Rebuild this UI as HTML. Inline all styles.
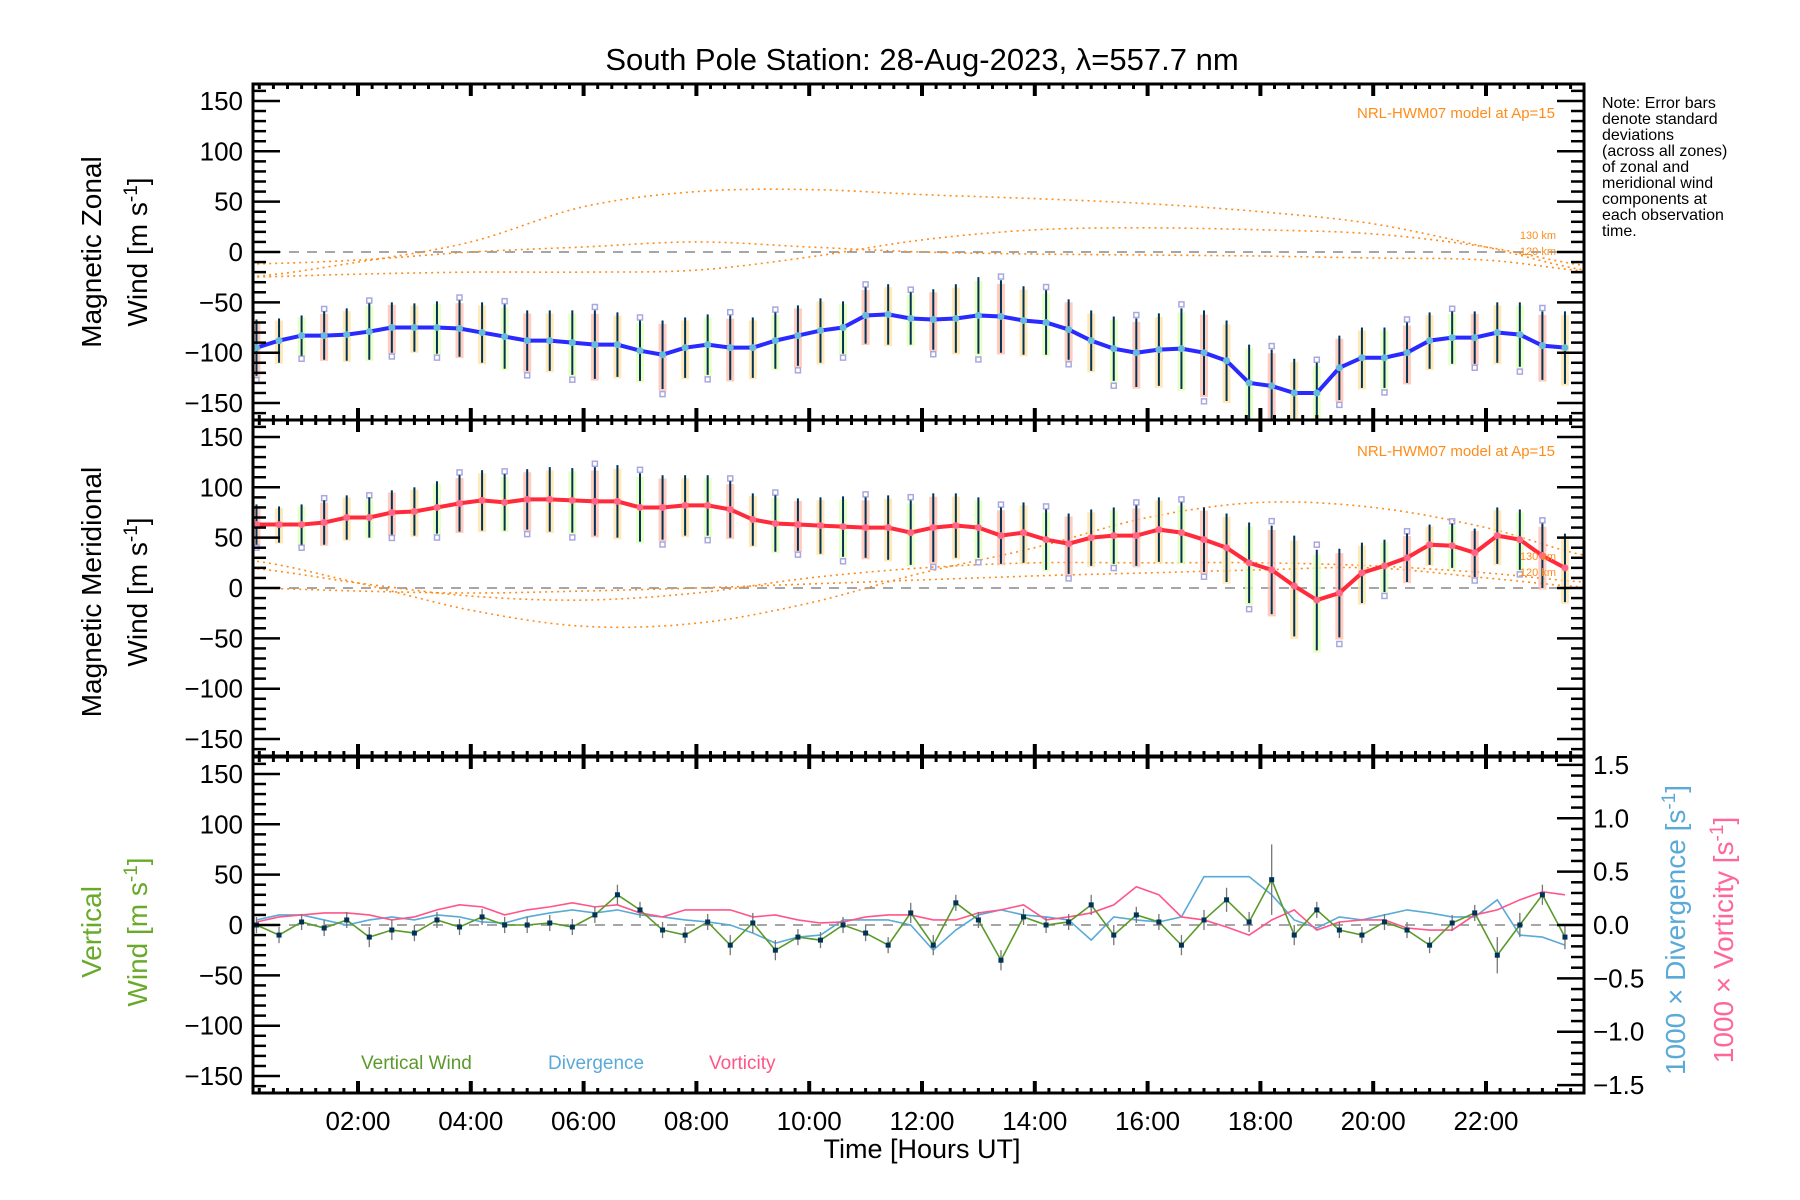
<!DOCTYPE html>
<html><head><meta charset="utf-8">
<style>
html,body{margin:0;padding:0;background:#fff;}
svg{display:block;font-family:"Liberation Sans","DejaVu Sans",sans-serif;}
</style></head>
<body>
<svg id="chart" width="1800" height="1200" viewBox="0 0 1800 1200" xmlns="http://www.w3.org/2000/svg">
<defs>
<clipPath id="c1"><rect x="253" y="84" width="1331" height="336"/></clipPath>
<clipPath id="c2"><rect x="253" y="420" width="1331" height="337"/></clipPath>
<clipPath id="c3"><rect x="253" y="757" width="1331" height="336"/></clipPath>
</defs>
<text x="922" y="70" font-size="31" text-anchor="middle">South Pole Station: 28-Aug-2023, λ=557.7 nm</text>
<text x="1555" y="118" font-size="15" fill="#ff8c1a" text-anchor="end">NRL-HWM07 model at Ap=15</text>
<text x="1555" y="456" font-size="15" fill="#ff8c1a" text-anchor="end">NRL-HWM07 model at Ap=15</text>
<g font-size="16" fill="#000">
<text x="1602" y="108">Note: Error bars</text>
<text x="1602" y="124">denote standard</text>
<text x="1602" y="140">deviations</text>
<text x="1602" y="156">(across all zones)</text>
<text x="1602" y="172">of zonal and</text>
<text x="1602" y="188">meridional wind</text>
<text x="1602" y="204">components at</text>
<text x="1602" y="220">each observation</text>
<text x="1602" y="236">time.</text>
</g>
<g font-size="28" text-anchor="middle">
<text transform="translate(101,252) rotate(-90)">Magnetic Zonal</text>
<text transform="translate(147,252) rotate(-90)">Wind [m s<tspan dy="-10" font-size="19">-1</tspan><tspan dy="10">]</tspan></text>
</g>
<g font-size="28" text-anchor="middle">
<text transform="translate(101,592) rotate(-90)">Magnetic Meridional</text>
<text transform="translate(147,592) rotate(-90)">Wind [m s<tspan dy="-10" font-size="19">-1</tspan><tspan dy="10">]</tspan></text>
</g>
<g font-size="28" text-anchor="middle" fill="#6aaa2a">
<text transform="translate(101,932) rotate(-90)">Vertical</text>
<text transform="translate(147,932) rotate(-90)">Wind [m s<tspan dy="-10" font-size="19">-1</tspan><tspan dy="10">]</tspan></text>
</g>
<text transform="translate(1685,930) rotate(-90)" font-size="28" text-anchor="middle" fill="#5aaad8">1000 × Divergence [s<tspan dy="-10" font-size="19">-1</tspan><tspan dy="10">]</tspan></text>
<text transform="translate(1733,940) rotate(-90)" font-size="28" text-anchor="middle" fill="#ff6699">1000 × Vorticity [s<tspan dy="-10" font-size="19">-1</tspan><tspan dy="10">]</tspan></text>
<text x="922" y="1158" font-size="27" text-anchor="middle">Time [Hours UT]</text>
<text x="361" y="1069" font-size="19" fill="#5a9a2a">Vertical Wind</text>
<text x="548" y="1069" font-size="19" fill="#5aaad8">Divergence</text>
<text x="709" y="1069" font-size="19" fill="#ff5588">Vorticity</text>
<g id="plots"></g>
</svg>
<script>
// ---- data ----
const times = [0.2,0.6,1.0,1.4,1.8,2.2,2.6,3.0,3.4,3.8,4.2,4.6,5.0,5.4,5.8,6.2,6.6,7.0,7.4,7.8,8.2,8.6,9.0,9.4,9.8,10.2,10.6,11.0,11.4,11.8,12.2,12.6,13.0,13.4,13.8,14.2,14.6,15.0,15.4,15.8,16.2,16.6,17.0,17.4,17.8,18.2,18.6,19.0,19.4,19.8,20.2,20.6,21.0,21.4,21.8,22.2,22.6,23.0,23.4];
const zonal = [-95,-88,-83,-83,-82,-79,-75,-75,-75,-76,-80,-84,-88,-88,-90,-92,-92,-98,-102,-95,-92,-95,-95,-88,-83,-78,-75,-63,-62,-66,-67,-66,-63,-64,-68,-70,-77,-88,-96,-100,-97,-96,-100,-108,-130,-133,-140,-140,-115,-105,-105,-100,-88,-85,-85,-80,-82,-93,-95];
const zonalErr = [28,22,20,24,26,28,25,24,26,28,30,32,30,30,32,34,32,30,34,30,30,32,30,28,30,32,26,28,30,26,30,34,38,36,34,32,30,30,32,34,36,40,42,40,38,36,34,30,32,30,30,30,28,26,26,30,32,34,36];
const meridional = [63,63,63,65,70,70,75,76,80,84,87,85,88,88,87,86,86,80,80,82,82,78,68,64,63,62,61,60,60,55,60,62,60,52,55,48,44,50,52,52,58,55,48,40,25,18,2,-12,-5,15,22,30,43,42,35,52,48,32,20];
const meridErr = [20,18,20,22,22,20,22,24,26,28,30,28,30,32,32,34,36,34,32,30,30,28,26,28,26,28,30,30,32,32,34,32,30,28,30,30,30,28,28,30,32,30,32,34,40,44,50,50,44,30,26,24,20,22,24,28,30,32,34];
const vertical = [0,-10,3,-3,5,-12,-5,-8,5,-2,8,0,0,2,-2,10,30,15,-5,-10,3,-20,2,-25,-12,-15,0,-8,-20,12,-20,22,5,-35,8,0,3,20,-10,10,3,-20,5,25,3,45,-10,15,-5,-10,3,-5,-20,2,12,-30,0,30,-12];
const vertErr = [8,8,8,8,8,10,10,8,8,8,8,8,8,8,8,8,10,8,8,8,8,10,10,10,8,8,8,8,8,10,10,8,8,10,8,8,8,10,10,8,8,10,10,12,10,35,10,8,8,8,8,8,8,8,8,18,12,10,12];
const divergence = [5,10,10,5,0,5,8,5,10,8,3,2,8,12,15,12,15,10,8,5,3,0,-8,-18,-12,-10,5,5,5,0,-25,-5,10,15,10,8,5,-15,8,5,3,8,48,48,48,30,5,-3,8,5,10,15,12,8,8,25,-10,-12,-20];
const vorticity = [3,8,10,12,12,10,5,8,15,20,18,10,15,18,22,18,20,12,8,15,15,15,8,10,5,2,3,8,10,10,5,5,12,15,20,5,8,12,20,38,30,8,5,-2,-10,5,15,-5,3,5,5,-3,-5,-5,10,15,25,33,30];
const modelHours = [0,2,4,6,8,10,12,14,16,18,20,22,24];
const zonalModelA = [-25,-10,10,45,60,62,57,53,48,40,28,5,-20];
const zonalModelB = [-12,-8,0,5,10,5,0,-2,-3,-4,-6,-8,-20];
const zonalModelC = [-25,-22,-20,-20,-18,-5,12,22,24,22,18,5,-15];
const meridModelA = [28,5,-22,-38,-35,-15,15,40,70,85,80,60,30];
const meridModelB = [20,5,-8,-12,-5,10,20,25,25,25,22,15,5];
const meridModelC = [0,-3,-5,-3,0,4,8,12,15,18,20,10,0];
const xTickLabels = ["02:00","04:00","06:00","08:00","10:00","12:00","14:00","16:00","18:00","20:00","22:00"];
const yTickLabels = ["150","100","50","0","−50","−100","−150"];
const rTickLabels = ["1.5","1.0","0.5","0.0","−0.5","−1.0","−1.5"];

// ---- scales ----
const L=253,R=1584,tops=[84,420,757],H=336;
const x=t=>245.2+t*56.4;
const y=(v,p)=>tops[p]+168-v*1.007;
const rScale=159/1.5;
const NS="http://www.w3.org/2000/svg";
const root=document.getElementById('plots');
function mk(tag,attrs,parent){const e=document.createElementNS(NS,tag);for(const k in attrs)e.setAttribute(k,attrs[k]);(parent||root).appendChild(e);return e;}
function smooth(hrs,vals,p){let pts=[];for(let i=0;i<hrs.length-1;i++){const p0=vals[Math.max(0,i-1)],p1=vals[i],p2=vals[i+1],p3=vals[Math.min(vals.length-1,i+2)];for(let s=0;s<10;s++){const u=s/10;const v=0.5*((2*p1)+(-p0+p2)*u+(2*p0-5*p1+4*p2-p3)*u*u+(-p0+3*p1-3*p2+p3)*u*u*u);pts.push(x(hrs[i]+(hrs[i+1]-hrs[i])*u).toFixed(1)+','+y(v,p).toFixed(1));}}pts.push(x(hrs[hrs.length-1]).toFixed(1)+','+y(vals[vals.length-1],p).toFixed(1));return pts.join(' ');}

const pastel=['#ffbfae','#ffe3a8','#e3ffb8','#bfe8ff','#c8c8ff'];
function windPanel(p,vals,errs,models,lineColor,dotColor,name){
  const g=mk('g',{'clip-path':'url(#c'+(p+1)+')'});
  
  
  mk('line',{x1:L,x2:R,y1:y(0,p),y2:y(0,p),stroke:'#888','stroke-width':1.5,'stroke-dasharray':'10,8'},g);
  models.forEach((m,i)=>{const pl=mk('polyline',{points:smooth(modelHours,m,p),fill:'none',stroke:'#ff8c1a','stroke-width':1.6,'stroke-dasharray':'2,4'},g);
    
    });
  times.forEach((t,i)=>{
    const v=vals[i],e=errs[i];
    const pb=mk('rect',{x:x(t)-4,y:y(v+e*0.9,p),width:8,height:Math.abs(y(v-e*1.05,p)-y(v+e*0.9,p)),fill:pastel[i%3],opacity:0.8},g);
    
    
    if(i%3!==1){const sq=mk('rect',{x:x(t)-2.5,y:y(v+e*(i%2?1.1:-1.15),p)-2.5,width:5,height:5,fill:'none',stroke:'#a8a8e0','stroke-width':1.5},g);
      
      }
    const eb=mk('line',{x1:x(t),x2:x(t),y1:y(v+e,p),y2:y(v-e,p),stroke:'#003355','stroke-width':2},g);
    
    
  });
  const ln=mk('polyline',{points:times.map((t,i)=>x(t)+','+y(vals[i],p)).join(' '),fill:'none',stroke:lineColor,'stroke-width':4},g);
  
  
  times.forEach((t,i)=>{const c=mk('circle',{cx:x(t),cy:y(vals[i],p),r:3.5,fill:dotColor},g);
    
    });
  const l1=mk('text',{x:1556,y:y(models[2][12]+20,p)-8,'font-size':11,fill:'#ff8c1a','text-anchor':'end'},g);l1.textContent='130 km';
  
  const l2=mk('text',{x:1556,y:y(models[2][12]+20,p)+8,'font-size':11,fill:'#ff8c1a','text-anchor':'end'},g);l2.textContent='120 km';
  
}
windPanel(0,zonal,zonalErr,[zonalModelA,zonalModelB,zonalModelC],'#2a2aff','#66bbdd','zonal');
windPanel(1,meridional,meridErr,[meridModelA,meridModelB,meridModelC],'#ff2a3a','#ff6688','meridional');

(function(){
  const p=2;const g=mk('g',{'clip-path':'url(#c3)'});
  
  
  mk('line',{x1:L,x2:R,y1:y(0,p),y2:y(0,p),stroke:'#888','stroke-width':1.5,'stroke-dasharray':'10,8'},g);
  const dv=mk('polyline',{points:times.map((t,i)=>x(t)+','+y(divergence[i],p)).join(' '),fill:'none',stroke:'#5aaad8','stroke-width':1.6},g);
  
  const vo=mk('polyline',{points:times.map((t,i)=>x(t)+','+y(vorticity[i],p)).join(' '),fill:'none',stroke:'#ff5588','stroke-width':1.6},g);
  
  times.forEach((t,i)=>{const e=mk('line',{x1:x(t),x2:x(t),y1:y(vertical[i]+vertErr[i],p),y2:y(vertical[i]-vertErr[i],p),stroke:'#777','stroke-width':1.3},g);
    });
  const vl=mk('polyline',{points:times.map((t,i)=>x(t)+','+y(vertical[i],p)).join(' '),fill:'none',stroke:'#5a9a2a','stroke-width':1.6},g);
  
  times.forEach((t,i)=>{const r=mk('rect',{x:x(t)-2.5,y:y(vertical[i],p)-2.5,width:5,height:5,fill:'#003355'},g);
    });
})();

const ax=mk('g',{stroke:'#000'});


for(let p=0;p<3;p++){
  for(let v=-160;v<=160;v+=10){const yy=y(v,p);if(yy<tops[p]||yy>tops[p]+H)continue;const big=v%50===0;const len=big?27:13;
    mk('line',{x1:L,x2:L+len,y1:yy,y2:yy,'stroke-width':2.5},ax);
    if(p<2)mk('line',{x1:R,x2:R-len,y1:yy,y2:yy,'stroke-width':2.5},ax);}
  yTickLabels.forEach((s,i)=>{const v=150-50*i;const t=mk('text',{x:243,y:y(v,p)+9,'font-size':26,'text-anchor':'end',stroke:'none',fill:'#000'});t.textContent=s;
    });
  for(let h=0;h<=24;h+=0.25){const xx=x(h);if(xx<=L+1||xx>=R-1)continue;const big=Math.abs(h%2)<1e-6;const len=big?12:5;
    mk('line',{x1:xx,x2:xx,y1:tops[p],y2:tops[p]+len,'stroke-width':big?4:3},ax);
    mk('line',{x1:xx,x2:xx,y1:tops[p]+H,y2:tops[p]+H-len,'stroke-width':big?4:3},ax);}
  mk('rect',{x:L,y:tops[p],width:R-L,height:H,fill:'none','stroke-width':3},ax);
}
for(let k=-15;k<=15;k++){const v=k/10;const yy=925-v*rScale*1.007;const big=k%5===0;mk('line',{x1:R,x2:R-(big?27:13),y1:yy,y2:yy,'stroke-width':2.5},ax);}
rTickLabels.forEach((s,i)=>{const v=1.5-0.5*i;const t=mk('text',{x:1593,y:925-v*rScale*1.007+9,'font-size':26,stroke:'none',fill:'#000'});t.textContent=s;
  });
xTickLabels.forEach((s,i)=>{const h=2+2*i;const t=mk('text',{x:x(h),y:1130,'font-size':26,'text-anchor':'middle',stroke:'none',fill:'#000'});t.textContent=s;
  });
</script>
</body></html>
